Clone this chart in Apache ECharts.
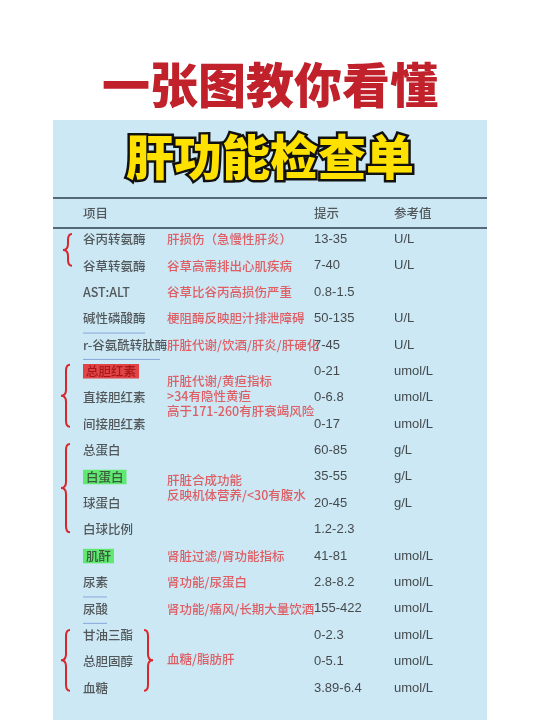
<!DOCTYPE html>
<html><head><meta charset="utf-8">
<script src="https://cdn.jsdelivr.net/npm/echarts@6/dist/echarts.min.js"></script>
<style>html,body{margin:0;padding:0;background:#fff}#c{width:540px;height:720px}</style>
</head><body><div id="c"></div>
<script>
const headers = ['项目','提示','参考值'];
const names = ['谷丙转氨酶','谷草转氨酶','AST:ALT','碱性磷酸酶','r-谷氨酰转肽酶','总胆红素','直接胆红素','间接胆红素','总蛋白','白蛋白','球蛋白','白球比例','肌酐','尿素','尿酸','甘油三酯','总胆固醇','血糖'];
const ranges = ['13-35','7-40','0.8-1.5','50-135','7-45','0-21','0-6.8','0-17','60-85','35-55','20-45','1.2-2.3','41-81','2.8-8.2','155-422','0-2.3','0-5.1','3.89-6.4'];
const units = ['U/L','U/L','','U/L','U/L','umol/L','umol/L','umol/L','g/L','g/L','g/L','','umol/L','umol/L','umol/L','umol/L','umol/L','umol/L'];
const hints = [
  [1,'肝损伤（急慢性肝炎）'],[2,'谷草高需排出心肌疾病'],[3,'谷草比谷丙高损伤严重'],
  [4,'梗阻酶反映胆汁排泄障碍'],[5,'肝脏代谢/饮酒/肝炎/肝硬化'],
  [6.95,'肝脏代谢/黄疸指标\n>34有隐性黄疸\n高于171-260有肝衰竭风险'],
  [10.4,'肝脏合成功能\n反映机体营养/<30有腹水'],
  [13,'肾脏过滤/肾功能指标'],[14,'肾功能/尿蛋白'],[15,'肾功能/痛风/长期大量饮酒'],
  [16.9,'血糖/脂肪肝']
];
const redHL = ['总胆红素'], greenHL = ['白蛋白','肌酐'];
const underlined = [[4,145],[5,160],[14,107],[15,107]];
const braces = [[68,0.8,2.0,-1],[66,5.75,8.1,-1],[66,8.75,12.1,-1],[66,15.8,18.1,-1],[148,15.8,18.1,1]];

const X_NAME=83, X_HINT=167, X_RANGE=314, X_UNIT=394;
const txt = {fontFamily:'Noto Sans CJK SC',fontSize:12.5,fontWeight:500};
function textSeries(data, color, extra){
  return {type:'scatter',symbolSize:0,silent:true,data,
    label:Object.assign({show:true,position:'inside',align:'left',verticalAlign:'middle',
      formatter:p=>p.data.t,color,...txt},extra||{})};
}
const nameData = names.map((n,i)=>{
  const d={value:[X_NAME,i+1],t:n};
  if(redHL.includes(n)) d.label={backgroundColor:'#e51a1a',color:'#9a0c0c',padding:[1,3]};
  if(greenHL.includes(n)) d.label={backgroundColor:'#45e84f',padding:[1,3]};
  return d;
});
const chart = echarts.init(document.getElementById('c'));
chart.setOption({
  animation:false,
  backgroundColor:'#ffffff',
  graphic:[{type:'rect',z:-10,shape:{x:53,y:120,width:434,height:600},style:{fill:'#cce8f5'}}],
  title:[
    {text:'一张图教你看懂',left:'center',top:56,textStyle:{fontFamily:'Noto Sans CJK SC',fontSize:48,fontWeight:900,color:'#c0212b'}},
    {text:'肝功能检查单',left:'center',top:128,textStyle:{fontFamily:'Noto Sans CJK SC',fontSize:48,fontWeight:900,color:'#ffe100',textBorderColor:'#111',textBorderWidth:5}}
  ],
  grid:{left:0,right:0,top:186.6,bottom:32},
  xAxis:{type:'value',min:0,max:540,show:false},
  yAxis:{type:'value',min:-1,max:18,inverse:true,show:false},
  series:[
    textSeries([{value:[X_NAME,0],t:headers[0]},{value:[X_RANGE,0],t:headers[1]},{value:[X_UNIT,0],t:headers[2]}],'#333'),
    textSeries(nameData,'#333'),
    textSeries(ranges.map((r,i)=>({value:[X_RANGE,i+1],t:r})),'#222',{fontFamily:'Liberation Sans',fontSize:13}),
    textSeries(units.map((u,i)=>({value:[X_UNIT,i+1],t:u})),'#222',{fontFamily:'Liberation Sans',fontSize:13}),
    textSeries(hints.map(h=>({value:[X_HINT,h[0]],t:h[1]})),'#e23b3f',{lineHeight:15}),
    {type:'custom',silent:true,data:[[53,487,-0.57,1.5],[53,487,0.57,1.5]].concat(underlined.map(u=>[X_NAME,u[1],u[0]+0.55,0.9])),
     renderItem:(params,api)=>{
       const a=api.coord([api.value(0),api.value(2)]), b=api.coord([api.value(1),api.value(2)]);
       const head=api.value(3)>1;
       return {type:'line',shape:{x1:a[0],y1:a[1],x2:b[0],y2:b[1]},style:{stroke:head?'#2c3e50':'#7d9fd8',lineWidth:api.value(3)}};
     }},
    {type:'custom',silent:true,data:braces,
     renderItem:(params,api)=>{
       const t=api.coord([api.value(0),api.value(1)]), b=api.coord([api.value(0),api.value(2)]);
       const x=t[0], y0=t[1], y1=b[1], m=(y0+y1)/2, s=api.value(3), w=5*s, e=-4*s;
       const p=`M${x+e},${y0} Q${x},${y0} ${x},${y0+6} L${x},${m-6} Q${x},${m} ${x+w},${m} Q${x},${m} ${x},${m+6} L${x},${y1-6} Q${x},${y1} ${x+e},${y1}`;
       return {type:'path',shape:{pathData:p},style:{stroke:'#d8262b',lineWidth:2,fill:null}};
     }}
  ]
});
</script></body></html>
